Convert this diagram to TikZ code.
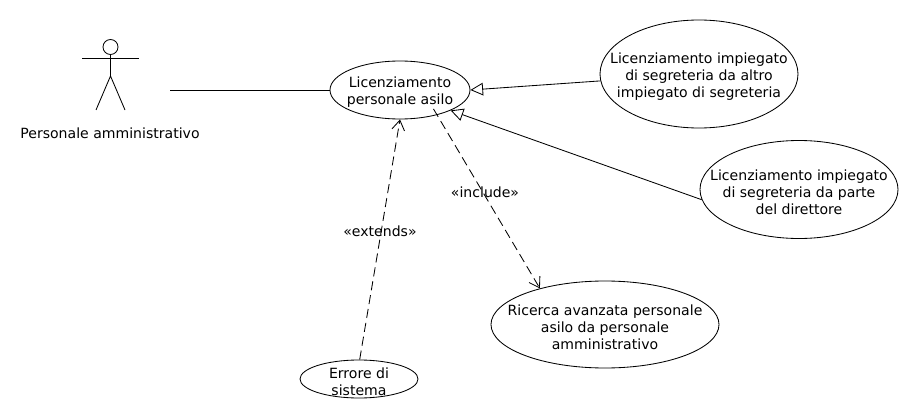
\documentclass[tikz,border=0pt]{standalone}
\usepackage{fontspec}
\setmainfont{DejaVu Sans}
\usetikzlibrary{arrows.meta,shapes.geometric}
\tikzset{
	usecase/.style={draw, ellipse, inner sep=0pt, fill=white},
	testocaso/.style={align=center, yshift=-1.8pt},
	testo/.style={font=\fontsize{10}{12}\selectfont},
	linea/.style={line width=0.6pt},
	genera/.style={linea, -{Triangle[open, length=9pt, width=9pt]}},
	dipende/.style={linea, dashed, dash pattern=on 6.5pt off 3.5pt, -{Straight Barb[length=7pt, width=9pt]}}
}
\begin{document}
\begin{tikzpicture}[x=0.025cm, y=-0.025cm, linea, testo]
	\useasboundingbox (0,0) rectangle (920,420);
	% attore
	\node[draw, circle, linea, minimum size=15*0.025cm, inner sep=0pt] (testa) at (110.5,47) {};
	\coordinate (bacino) at (110.5,76);
	\coordinate (manosx) at (82,58);
	\coordinate (manodx) at (139,58);
	\coordinate (piedesx) at (96,110);
	\coordinate (piededx) at (125,110);
	\coordinate (attore) at (170,90);
	\draw (testa) -- (bacino);
	\draw (manosx) -- (manodx);
	\draw (piedesx) -- (bacino) -- (piededx);
	\node (nomeatt) at (110,133) {Personale amministrativo};
	% casi d'uso
	\node[usecase, minimum width=140*0.025cm, minimum height=58*0.025cm, label={[testocaso]center:Licenziamento\\personale asilo}] (licenz) at (400,90) {};
	\node[usecase, minimum width=198*0.025cm, minimum height=108*0.025cm, label={[testocaso]center:Licenziamento impiegato\\di segreteria da altro\\impiegato di segreteria}] (altro) at (699,74) {};
	\node[usecase, minimum width=198*0.025cm, minimum height=98*0.025cm, label={[testocaso]center:Licenziamento impiegato\\di segreteria da parte\\del direttore}] (direttore) at (799,189.5) {};
	\node[usecase, minimum width=228*0.025cm, minimum height=87*0.025cm, label={[testocaso]center:Ricerca avanzata personale\\asilo da personale\\amministrativo}] (ricerca) at (605,324.5) {};
	\node[usecase, minimum width=118*0.025cm, minimum height=38*0.025cm, label={[testocaso]center:Errore di\\sistema}] (errore) at (359,379) {};
	% collegamenti
	\draw (attore) -- (licenz.west);
	\draw[genera] (altro.184) -- (licenz.east);
	\draw[genera] (direttore.186) -- (licenz.-22);
	\draw[dipende] (errore.88) -- (licenz.south);
	\draw[dipende, shorten <=-5pt] (licenz.-34) -- (ricerca.151);
	\node (extends) at (380,231) {«extends»};
	\node (include) at (485,192) {«include»};
\end{tikzpicture}
\end{document}
